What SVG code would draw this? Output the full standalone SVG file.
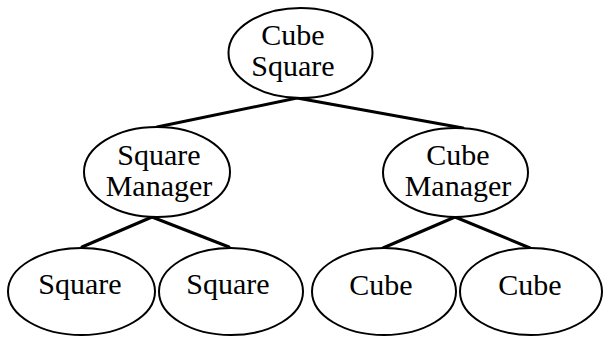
<svg xmlns="http://www.w3.org/2000/svg" width="603" height="337" viewBox="0 0 603 337">
  <style>
    .node ellipse { fill: #fff; stroke: #000; stroke-width: 2; }
    .node text { font-family: "Liberation Serif", "Times New Roman", serif; font-size: 30px; fill: #000; text-anchor: middle; }
    #edges line { stroke: #000; stroke-width: 3; stroke-linecap: round; }
  </style>
  <rect width="603" height="337" fill="#fff"/>
  <g id="edges">
    <line x1="297" y1="98" x2="157" y2="127"/>
    <line x1="297" y1="98" x2="463" y2="128"/>
    <line x1="152" y1="217" x2="82" y2="247"/>
    <line x1="152" y1="217" x2="229" y2="247"/>
    <line x1="455" y1="217" x2="383" y2="248"/>
    <line x1="455" y1="217" x2="530" y2="248"/>
  </g>
  <g id="cube-square" class="node">
    <ellipse cx="300.5" cy="53" rx="72" ry="45"/>
    <text x="293" y="45">Cube</text>
    <text x="293" y="76">Square</text>
  </g>
  <g id="square-manager" class="node">
    <ellipse cx="157" cy="172" rx="73" ry="45"/>
    <text x="159" y="165">Square</text>
    <text x="159" y="196">Manager</text>
  </g>
  <g id="cube-manager" class="node">
    <ellipse cx="455.5" cy="172.5" rx="72.5" ry="44.5"/>
    <text x="458" y="165">Cube</text>
    <text x="458" y="196">Manager</text>
  </g>
  <g id="square-1" class="node">
    <ellipse cx="81.5" cy="291.5" rx="73.5" ry="43.5"/>
    <text x="80" y="294">Square</text>
  </g>
  <g id="square-2" class="node">
    <ellipse cx="231" cy="291.5" rx="72" ry="43.5"/>
    <text x="228" y="294">Square</text>
  </g>
  <g id="cube-1" class="node">
    <ellipse cx="384" cy="291.5" rx="72" ry="43.5"/>
    <text x="381" y="295">Cube</text>
  </g>
  <g id="cube-2" class="node">
    <ellipse cx="531" cy="291.5" rx="71" ry="43.5"/>
    <text x="530" y="295">Cube</text>
  </g>
</svg>
